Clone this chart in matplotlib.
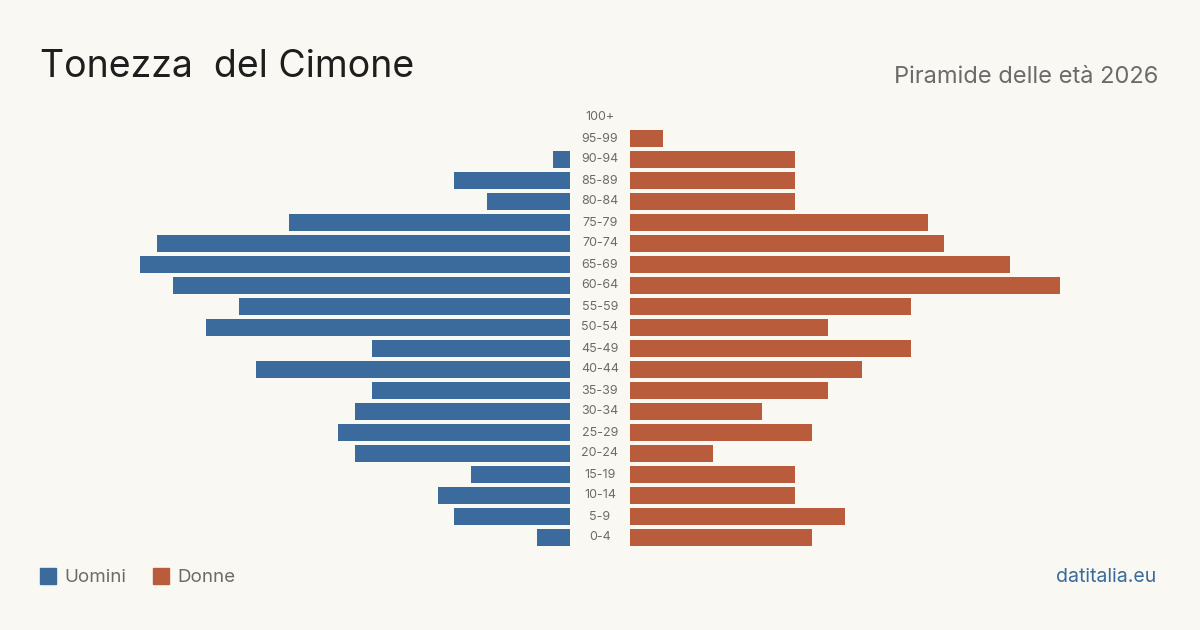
import matplotlib.pyplot as plt
import numpy as np

plt.rcParams['font.family'] = ['Inter', 'DejaVu Sans']

age_groups = ["0-4", "5-9", "10-14", "15-19", "20-24", "25-29", "30-34", "35-39",
              "40-44", "45-49", "50-54", "55-59", "60-64", "65-69", "70-74",
              "75-79", "80-84", "85-89", "90-94", "95-99", "100+"]
uomini = [2, 7, 8, 6, 13, 14, 13, 12, 19, 12, 22, 20, 24, 26, 25, 17, 5, 7, 1, 0, 0]
donne = [11, 13, 10, 10, 5, 11, 8, 12, 14, 17, 12, 17, 26, 23, 19, 18, 10, 10, 10, 2, 0]

BG = "#f9f8f3"
BLUE = "#3a6b9c"
RED = "#b95c3c"

W, H = 1200, 630
fig = plt.figure(figsize=(12, 6.3), dpi=100, facecolor=BG)

xmax = max(max(uomini), max(donne))
y = np.arange(len(age_groups))
top, bottom = 117.5, 537.5
step = (bottom - top) / (len(age_groups) - 1)
ax_bottom = 1 - (bottom + step / 2) / H
ax_h = (bottom - top + step) / H

axl = fig.add_axes([140 / W, ax_bottom, 430 / W, ax_h])
axr = fig.add_axes([630 / W, ax_bottom, 430 / W, ax_h])
for ax in (axl, axr):
    ax.set_facecolor(BG)
    ax.set_ylim(-0.5, len(age_groups) - 0.5)
    for s in ax.spines.values():
        s.set_visible(False)
    ax.set_xticks([])
    ax.set_yticks([])

axl.barh(y, uomini, height=0.8, color=BLUE)
axl.set_xlim(xmax, 0)
axr.barh(y, donne, height=0.8, color=RED)
axr.set_xlim(0, xmax)

for i, lab in enumerate(age_groups):
    fig.text(600 / W, 1 - (bottom - i * step) / H, lab, ha="center", va="center",
             fontsize=9, color="#6b6b6b")

fig.text(40 / W, 1 - 67 / H, "Tonezza  del Cimone", fontsize=27, color="#1e1e1e",
         va="center", ha="left")
fig.text(1158 / W, 1 - 77 / H, "Piramide delle età 2026", fontsize=17, color="#6b6b6b",
         va="center", ha="right")

# legend
fig.patches.append(plt.Rectangle((40 / W, 1 - 584 / H), 16 / W, 16 / H,
                                 transform=fig.transFigure, color=BLUE))
fig.text(64 / W, 1 - 577 / H, "Uomini", fontsize=13.5, color="#6b6b6b", va="center")
fig.patches.append(plt.Rectangle((153 / W, 1 - 584 / H), 16 / W, 16 / H,
                                 transform=fig.transFigure, color=RED))
fig.text(177 / W, 1 - 577 / H, "Donne", fontsize=13.5, color="#6b6b6b", va="center")

fig.text(1156 / W, 1 - 577 / H, "datitalia.eu", fontsize=14, color=BLUE,
         va="center", ha="right")

fig.savefig("out.png", dpi=100, facecolor=BG)
